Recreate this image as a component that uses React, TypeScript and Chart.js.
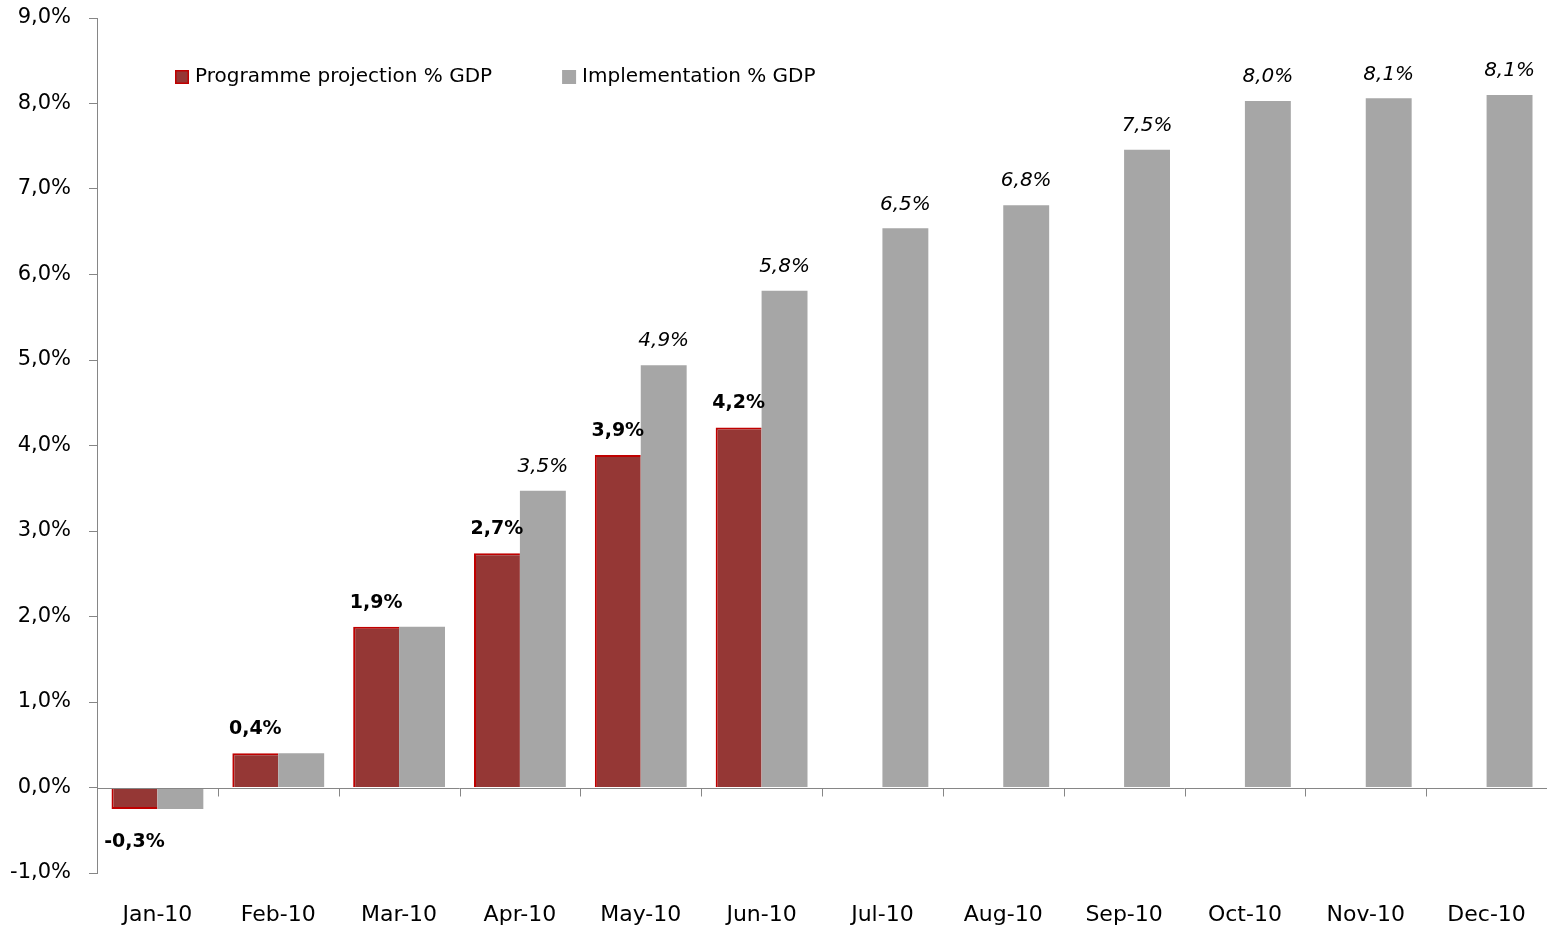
import React, { useEffect, useRef } from 'react';
import { Chart, registerables } from 'chart.js';

Chart.register(...registerables);

const categories = ['Jan-10', 'Feb-10', 'Mar-10', 'Apr-10', 'May-10', 'Jun-10', 'Jul-10', 'Aug-10', 'Sep-10', 'Oct-10', 'Nov-10', 'Dec-10'];
const programme: (number | null)[] = [-0.25, 0.4, 1.88, 2.74, 3.89, 4.21, null, null, null, null, null, null];
const implementation: number[] = [-0.25, 0.4, 1.88, 3.47, 4.94, 5.81, 6.54, 6.81, 7.46, 8.03, 8.06, 8.1];
const seriesNames = ['Programme projection % GDP', 'Implementation % GDP'];
const yMin = -1;
const yMax = 9;
const yStep = 1;

const FONT = '"DejaVu Sans", "Open Sans", sans-serif';
const AXIS = '#868686';
const RED_FILL = '#953735';
const RED_BORDER = '#C00000';
const GRAY = '#A6A6A6';

const fmt = (v: number) => v.toFixed(1).replace('.', ',') + '%';

const overlay = {
  id: 'overlay',
  afterDatasetsDraw(chart: any) {
    const ctx = chart.ctx as CanvasRenderingContext2D;
    const area = chart.chartArea;
    const y = chart.scales.y;
    const y0 = Math.round(y.getPixelForValue(0)) + 0.5;
    ctx.save();
    // zero axis line + category tick marks
    ctx.strokeStyle = AXIS;
    ctx.lineWidth = 1;
    ctx.beginPath();
    ctx.moveTo(area.left, y0);
    ctx.lineTo(area.right, y0);
    const n = categories.length;
    const w = (area.right - area.left) / n;
    for (let k = 1; k < n; k++) {
      const tx = Math.round(area.left + w * k) + 0.5;
      ctx.moveTo(tx, y0);
      ctx.lineTo(tx, y0 + 8);
    }
    ctx.stroke();

    // data labels
    ctx.fillStyle = '#000';
    ctx.textAlign = 'center';
    ctx.textBaseline = 'middle';
    const metaP = chart.getDatasetMeta(0);
    const metaI = chart.getDatasetMeta(1);
    programme.forEach((v, i) => {
      if (v === null) return;
      const el = metaP.data[i];
      ctx.font = `bold 19px ${FONT}`;
      const ty = v >= 0 ? el.y - 24 : el.y + 33;
      ctx.fillText(fmt(v), el.x, ty);
    });
    implementation.forEach((v, i) => {
      const p = programme[i];
      if (p !== null && p === v) return;
      const el = metaI.data[i];
      ctx.font = `oblique 20px ${FONT}`;
      const ty = v >= 0 ? el.y - 24 : el.y + 33;
      ctx.fillText(fmt(v), el.x, ty);
    });

    // legend
    ctx.textAlign = 'left';
    ctx.font = `20px ${FONT}`;
    const ly = 77;
    let lx = 175;
    const fills = [RED_FILL, GRAY];
    seriesNames.forEach((name, i) => {
      ctx.fillStyle = fills[i];
      ctx.fillRect(lx, ly - 7, 14, 14);
      if (i === 0) {
        ctx.strokeStyle = RED_BORDER;
        ctx.lineWidth = 1.5;
        ctx.strokeRect(lx + 0.75, ly - 6.25, 12.5, 12.5);
      }
      ctx.fillStyle = '#000';
      ctx.fillText(name, lx + 20, ly);
      lx = lx + 20 + ctx.measureText(name).width + 70;
    });
    ctx.restore();
  },
};

export default function App() {
  const ref = useRef<HTMLCanvasElement>(null);
  useEffect(() => {
    document.body.style.margin = '0';
    const chart = new Chart(ref.current!, {
      type: 'bar',
      data: {
        labels: categories,
        datasets: [
          {
            label: seriesNames[0],
            data: programme,
            backgroundColor: RED_FILL,
            borderColor: RED_BORDER,
            borderWidth: { top: 2, left: 2, bottom: 2, right: 0 } as any,
            borderSkipped: 'start',
            categoryPercentage: 0.76,
            barPercentage: 1,
          },
          {
            label: seriesNames[1],
            data: implementation,
            backgroundColor: GRAY,
            borderWidth: 0,
            categoryPercentage: 0.76,
            barPercentage: 1,
          },
        ],
      },
      options: {
        animation: false,
        responsive: false,
        maintainAspectRatio: false,
        layout: { padding: { top: 18, bottom: 3, left: 0, right: 0 } },
        plugins: { legend: { display: false }, tooltip: { enabled: false } },
        scales: {
          x: {
            afterFit: (s: any) => { s.height = 54; s.paddingLeft = 0; s.paddingRight = 0; },
            grid: { display: false, drawTicks: false },
            border: { display: false },
            ticks: { color: '#000', font: { size: 22, family: FONT }, padding: 29, maxRotation: 0, autoSkip: false },
          },
          y: {
            min: yMin,
            max: yMax,
            afterFit: (s: any) => { s.width = 97; s.paddingTop = 0; s.paddingBottom = 0; },
            grid: { drawOnChartArea: false, drawTicks: true, tickLength: 8, color: AXIS },
            border: { display: true, color: AXIS },
            ticks: {
              stepSize: yStep,
              color: '#000',
              padding: 18,
              font: { size: 21, family: FONT },
              callback: (v: any) => fmt(Number(v)),
            },
          },
        },
      },
      plugins: [overlay],
    });
    return () => chart.destroy();
  }, []);
  return <canvas ref={ref} width={1547} height={930} style={{ display: 'block' }} />;
}
